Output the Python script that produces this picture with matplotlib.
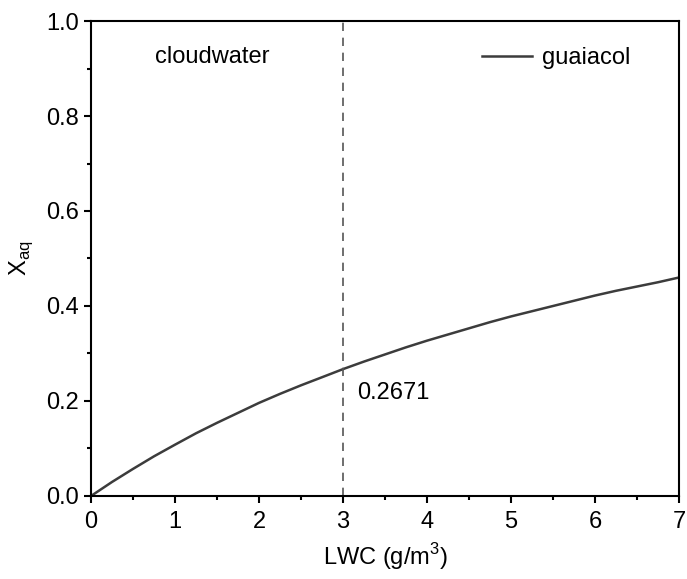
import numpy as np
import matplotlib.pyplot as plt
from matplotlib.ticker import MultipleLocator

plt.rcParams["font.family"] = ["Liberation Sans", "DejaVu Sans"]
plt.rcParams["mathtext.fontset"] = "custom"
plt.rcParams["mathtext.rm"] = "Liberation Sans"

# valores
lwc = [0, 0.25, 0.5, 0.75, 1, 1.25, 1.5, 1.75, 2, 2.25, 2.5, 2.75, 3,
       3.25, 3.5, 3.75, 4, 4.25, 4.5, 4.75, 5, 5.25, 5.5, 5.75, 6,
       6.25, 6.5, 6.75, 7]
x_aq = [0, 0.0295, 0.057, 0.0835, 0.108, 0.132, 0.154, 0.175, 0.196,
        0.215, 0.233, 0.250, 0.2671, 0.283, 0.298, 0.313, 0.327, 0.340,
        0.353, 0.366, 0.378, 0.389, 0.400, 0.411, 0.422, 0.432, 0.441,
        0.450, 0.460]
lwc_nuvem = 3
x_nuvem = "0.2671"

fig = plt.figure(figsize=(6.87, 5.79), dpi=100)
ax = fig.add_axes([0.1325, 0.1434, 0.8559, 0.8203])

ax.plot(lwc, x_aq, color="#3c3c3c", lw=1.8, label="guaiacol")
ax.axvline(lwc_nuvem, color="#555555", lw=1.2, ls=(0, (5, 4)))

ax.set_xlim(0, 7)
ax.set_ylim(0, 1)
ax.xaxis.set_major_locator(MultipleLocator(1))
ax.xaxis.set_minor_locator(MultipleLocator(0.5))
ax.yaxis.set_major_locator(MultipleLocator(0.2))
ax.yaxis.set_minor_locator(MultipleLocator(0.1))
ax.yaxis.set_major_formatter(plt.FormatStrFormatter("%.1f"))

for s in ax.spines.values():
    s.set_linewidth(1.5)
ax.tick_params(which="major", length=5, width=1.5, labelsize=17, direction="out")
ax.tick_params(axis="x", which="major", pad=6)
ax.tick_params(which="minor", length=3, width=1.5, direction="out")

ax.text(0.76, 0.924, "cloudwater", fontsize=17, va="center", ha="left")
ax.text(3.17, 0.217, x_nuvem, fontsize=17, va="center", ha="left")

ax.legend(loc="upper right", frameon=False, fontsize=17, handlelength=2.15,
          handletextpad=0.4, bbox_to_anchor=(0.953, 0.99))

ax.set_xlabel("LWC (g/m$^3$)", fontsize=17, labelpad=6)
ax.set_ylabel(r"X$_{\mathrm{aq}}$", fontsize=17, labelpad=8)

fig.savefig("out.png", dpi=100)
